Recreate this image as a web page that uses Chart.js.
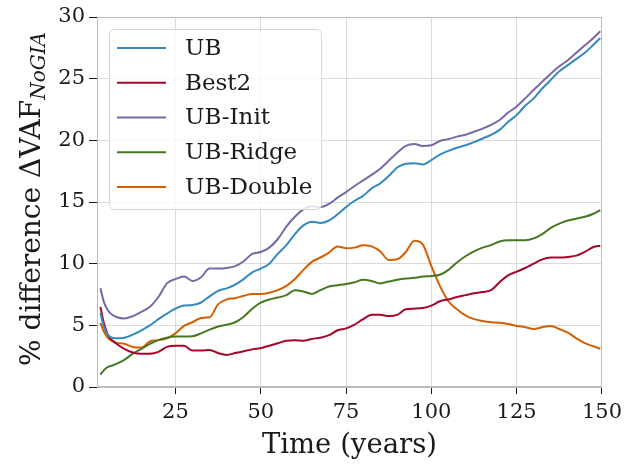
<!DOCTYPE html>
<html>
<head>
<meta charset="utf-8">
<script src="https://cdn.jsdelivr.net/npm/chart.js@4.4.1/dist/chart.umd.min.js"></script>
<style>
  html, body { margin: 0; padding: 0; background: #fff; }
  #wrap { width: 628px; height: 466px; }
</style>
</head>
<body>
<div id="wrap"><canvas id="vafChart" width="628" height="466"></canvas></div>
<script>
// years after start
const years = [3, 4, 5, 6, 7.5, 10, 12.5, 15, 17.5, 20, 22.5, 25, 27.5, 30, 32.5, 35, 37.5, 40, 42.5, 45,
  47.5, 50, 52.5, 55, 57.5, 60, 62.5, 65, 67.5, 70, 72.5, 75, 77.5, 80, 82.5, 85, 87.5, 90, 92.5, 95,
  97.5, 100, 102.5, 105, 107.5, 110, 112.5, 115, 117.5, 120, 122.5, 125, 127.5, 130, 132.5, 135, 137.5, 140, 142.5, 145,
  147.5, 149.5];

const ub = [6.0, 4.9, 4.3, 4.05, 3.95, 4.0, 4.25, 4.6, 5.0, 5.5, 5.95, 6.35, 6.6, 6.65, 6.85, 7.35, 7.8, 8.0, 8.3, 8.75,
  9.3, 9.6, 10.0, 10.8, 11.5, 12.4, 13.1, 13.4, 13.3, 13.5, 14.0, 14.6, 15.1, 15.5, 16.1, 16.5, 17.1, 17.8, 18.1, 18.15,
  18.05, 18.4, 18.85, 19.15, 19.4, 19.6, 19.85, 20.15, 20.45, 20.85, 21.5, 22.05, 22.8, 23.4, 24.2, 24.9, 25.6, 26.1, 26.6, 27.1,
  27.75, 28.3];

const best2 = [6.5, 5.2, 4.35, 3.9, 3.55, 3.1, 2.8, 2.7, 2.7, 2.85, 3.25, 3.35, 3.35, 2.95, 2.95, 3.0, 2.75, 2.6, 2.75, 2.9,
  3.05, 3.15, 3.35, 3.55, 3.75, 3.8, 3.75, 3.9, 4.0, 4.2, 4.6, 4.75, 5.05, 5.5, 5.85, 5.85, 5.75, 5.85, 6.3, 6.35,
  6.4, 6.6, 6.95, 7.1, 7.3, 7.45, 7.6, 7.7, 7.85, 8.5, 9.05, 9.35, 9.65, 10.0, 10.35, 10.5, 10.5, 10.55, 10.65, 10.95,
  11.35, 11.45];

const ubInit = [8.0, 6.9, 6.3, 5.95, 5.7, 5.55, 5.75, 6.1, 6.5, 7.3, 8.4, 8.75, 8.95, 8.6, 8.9, 9.6, 9.6, 9.65, 9.8, 10.2,
  10.8, 10.95, 11.3, 12.0, 13.0, 13.8, 14.4, 14.65, 14.6, 14.85, 15.35, 15.8, 16.3, 16.75, 17.2, 17.7, 18.35, 19.0, 19.55, 19.7,
  19.55, 19.6, 19.95, 20.1, 20.3, 20.45, 20.7, 20.95, 21.25, 21.65, 22.25, 22.75, 23.4, 24.1, 24.75, 25.4, 26.0, 26.5, 27.1, 27.7,
  28.3, 28.85];

const ubRidge = [1.0, 1.35, 1.6, 1.7, 1.85, 2.2, 2.7, 3.1, 3.5, 3.8, 4.0, 4.1, 4.1, 4.12, 4.35, 4.65, 4.9, 5.05, 5.25, 5.7,
  6.35, 6.85, 7.1, 7.25, 7.45, 7.85, 7.75, 7.55, 7.85, 8.15, 8.25, 8.35, 8.5, 8.7, 8.6, 8.4, 8.55, 8.7, 8.8, 8.85,
  8.95, 9.0, 9.1, 9.5, 10.1, 10.6, 11.0, 11.3, 11.5, 11.8, 11.9, 11.9, 11.9, 12.05, 12.4, 12.9, 13.25, 13.5, 13.65, 13.8,
  14.05, 14.35];

const ubDouble = [5.2, 4.5, 4.05, 3.8, 3.6, 3.5, 3.25, 3.2, 3.7, 3.8, 3.95, 4.35, 4.95, 5.25, 5.6, 5.65, 6.7, 7.1, 7.2, 7.4,
  7.55, 7.55, 7.65, 7.85, 8.2, 8.75, 9.5, 10.15, 10.5, 10.9, 11.4, 11.25, 11.3, 11.5, 11.4, 11.0, 10.3, 10.35, 10.95, 11.85,
  11.55, 9.8, 8.2, 6.95, 6.3, 5.8, 5.5, 5.35, 5.25, 5.2, 5.1, 4.95, 4.85, 4.7, 4.85, 4.95, 4.7, 4.4, 3.95, 3.55,
  3.3, 3.1];

const seriesNames = ['UB', 'Best2', 'UB-Init', 'UB-Ridge', 'UB-Double'];
const seriesColors = ['#348ABD', '#A60628', '#7A68A6', '#467821', '#D55E00'];
const seriesValues = [ub, best2, ubInit, ubRidge, ubDouble];

const xTicks = [25, 50, 75, 100, 125, 150];
const yTicks = [0, 5, 10, 15, 20, 25, 30];

const serif = "'DejaVu Serif', serif";
const textColor = '#1a1a1a';

// frame on all four sides + y label with subscript + legend box
const extras = {
    id: 'extras',
    afterDatasetsDraw(chart) {
        const { ctx, chartArea: a } = chart;
        ctx.save();
        ctx.strokeStyle = '#bcbcbc';
        ctx.lineWidth = 1;
        ctx.strokeRect(a.left + 0.5, a.top + 0.5, a.right - a.left - 1, a.bottom - a.top - 1);
        ctx.restore();
    },
    afterDraw(chart) {
        const { ctx } = chart;
        // y axis label
        ctx.save();
        const main = '% difference \u0394VAF';
        const sub = 'NoGIA';
        ctx.font = `28px ${serif}`;
        const wMain = ctx.measureText(main).width;
        ctx.font = `italic 20px ${serif}`;
        const wSub = ctx.measureText(sub).width;
        const total = wMain + wSub;
        ctx.translate(40, 199);
        ctx.rotate(-Math.PI / 2);
        ctx.fillStyle = textColor;
        ctx.textBaseline = 'alphabetic';
        ctx.textAlign = 'left';
        ctx.font = `28px ${serif}`;
        ctx.fillText(main, -total / 2, 0);
        ctx.font = `italic 20px ${serif}`;
        ctx.fillText(sub, -total / 2 + wMain, 5);
        ctx.restore();

        // legend
        const bx = 109, by = 29, bw = 212, bh = 180, r = 5;
        ctx.save();
        ctx.beginPath();
        ctx.roundRect(bx + 0.5, by + 0.5, bw, bh, r);
        ctx.fillStyle = 'rgba(255,255,255,0.8)';
        ctx.fill();
        ctx.strokeStyle = '#d6d6d6';
        ctx.lineWidth = 1;
        ctx.stroke();
        ctx.font = `23px ${serif}`;
        ctx.textBaseline = 'middle';
        ctx.fillStyle = textColor;
        chart.data.datasets.forEach((ds, i) => {
            const yy = 48 + i * 34.75;
            ctx.beginPath();
            ctx.moveTo(117, yy);
            ctx.lineTo(166, yy);
            ctx.strokeStyle = ds.borderColor;
            ctx.lineWidth = 2;
            ctx.stroke();
            ctx.fillText(ds.label, 185, yy + 1);
        });
        ctx.restore();
    }
};

const ctx = document.getElementById('vafChart').getContext('2d');
const vafChart = new Chart(ctx, {
    type: 'line',
    data: {
        datasets: seriesNames.map((name, i) => ({
            label: name,
            data: years.map((yr, j) => ({ x: yr, y: seriesValues[i][j] })),
            borderColor: seriesColors[i],
            backgroundColor: seriesColors[i],
            borderWidth: 2,
            pointRadius: 0,
            cubicInterpolationMode: 'monotone',
            fill: false
        }))
    },
    options: {
        responsive: false,
        animation: false,
        devicePixelRatio: 1,
        layout: { padding: { left: 0, right: 24, top: 17, bottom: 0 } },
        plugins: {
            legend: { display: false },
            tooltip: { enabled: false }
        },
        scales: {
            x: {
                type: 'linear',
                min: 2,
                max: 150,
                afterBuildTicks: axis => { axis.ticks = xTicks.map(v => ({ value: v })); },
                afterFit: scale => { scale.height = 79; },
                grid: { color: '#dadada', tickColor: textColor, tickLength: 7 },
                border: { color: '#bcbcbc' },
                ticks: { font: { family: serif, size: 21 }, color: textColor, padding: 6, maxRotation: 0 },
                title: {
                    display: true,
                    text: 'Time (years)',
                    font: { family: serif, size: 27.5 },
                    color: textColor,
                    padding: { top: 0, bottom: 4 }
                }
            },
            y: {
                min: 0,
                max: 30,
                afterBuildTicks: axis => { axis.ticks = yTicks.map(v => ({ value: v })); },
                afterFit: scale => { scale.width = 97; },
                grid: { color: '#dadada', tickColor: textColor, tickLength: 8 },
                border: { color: '#bcbcbc' },
                ticks: { font: { family: serif, size: 21 }, color: textColor, padding: 4 }
            }
        }
    },
    plugins: [extras]
});
</script>
</body>
</html>
